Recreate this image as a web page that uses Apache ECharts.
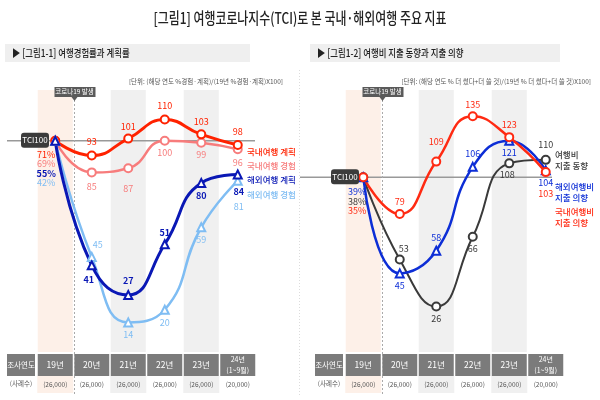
<!DOCTYPE html>
<html>
<head>
<meta charset="utf-8">
<script src="https://cdn.jsdelivr.net/npm/echarts@6/dist/echarts.min.js"></script>
<style>
  html, body { margin: 0; padding: 0; background: #fff; }
  #chart { width: 600px; height: 400px; }
</style>
</head>
<body>
<div id="chart"></div>
<script>
// categories / table rows
const years = ['19년', '20년', '21년', '22년', '23년', '24년'];
const yearNotes = ['', '', '', '', '', '(1~9월)'];
const samples = ['(26,000)', '(26,000)', '(26,000)', '(26,000)', '(26,000)', '(20,000)'];

// [그림1-1] 여행경험률과 계획률 (TCI)
const domPlan = [100, 93, 101, 110, 103, 98];
const domExp = [100, 85, 87, 100, 99, 96];
const abrPlan = [100, 41, 27, 51, 80, 84];
const abrExp = [100, 45, 14, 20, 59, 81];
const base1 = ['71%', '69%', '55%', '42%']; // 19년 실제 비율

// [그림1-2] 여행비 지출 동향과 지출 의향 (TCI)
const spendTrend = [100, 53, 26, 66, 108, 110];
const abrSpend = [100, 45, 58, 106, 121, 104];
const domSpend = [100, 79, 109, 135, 123, 103];
const base2 = ['38%', '39%', '35%'];

const KR = "'Noto Sans CJK KR', sans-serif";
const NUM = "'Liberation Sans Narrow', 'Noto Sans CJK KR', sans-serif";
const PEACH = '#fdf0e8';
const BAND = '#f0f0f0';
const CELL = '#7b7b7b';
const Y1MAX = 124, Y2MAX = 150;

let chart = echarts.init(document.getElementById('chart'));

// label offsets [dx, dy] from each marker
const off = {
  domPlan: [[-9, 14], [0, -14], [0, -12], [0, -14], [0, -13], [0, -13]],
  domExp: [[-9, 23], [0, 14], [0, 20], [0, 12], [0, 12], [0, 13]],
  abrPlan: [[-9, 33], [-3, 14], [0, -14], [0, -12], [0, 13], [1, 17]],
  abrExp: [[-9, 42], [6, -12], [0, 12], [0, 13], [0, 12], [1, 26]],
  spendTrend: [[-6, 24], [4, -11], [0, 12], [0, 12], [-2, 11], [0, -15]],
  abrSpend: [[-6, 14], [0, 12], [0, -13], [0, -13], [0, 12], [0, 12]],
  domSpend: [[-6, 33], [0, -12], [0, -20], [0, -12], [0, -13], [0, 21]]
};

function lineSeries(name, data, idx, color, symbol, width, offsets, baseText, bold) {
  return {
    name: name,
    type: 'line',
    xAxisIndex: idx,
    yAxisIndex: idx,
    smooth: 0.5,
    z: 3,
    symbol: symbol,
    symbolSize: 8,
    lineStyle: { color: color, width: width },
    itemStyle: { color: color, borderWidth: 1.5 },
    label: {
      show: true,
      position: 'inside',
      color: color,
      fontSize: 9,
      fontWeight: bold ? 'bold' : 'normal',
      fontFamily: NUM
    },
    data: data.map(function (v, i) {
      let item = { value: v, label: { offset: offsets[i] } };
      if (i === 0) item.label.formatter = baseText;
      return item;
    })
  };
}

function bandSeries(idx, max) {
  return {
    type: 'bar',
    xAxisIndex: idx,
    yAxisIndex: idx,
    silent: true,
    z: 0,
    barWidth: '96%',
    data: years.map(function (y, i) {
      if (i % 2 !== 0) return '-';
      return { value: max, itemStyle: { color: i === 0 ? PEACH : BAND } };
    })
  };
}

function xAxisFor(idx) {
  return {
    type: 'category',
    gridIndex: idx,
    data: years,
    axisLine: { show: false },
    axisTick: { show: false },
    axisLabel: {
      interval: 0,
      margin: 2,
      formatter: function (v, i) {
        let sub = '{' + (i === 0 ? 'sp' : (i % 2 === 0 ? 'sg' : 'sw')) + '|' + samples[i] + '}';
        if (yearNotes[i]) return '{t|' + v + '}\n{t|' + yearNotes[i] + '}\n' + sub;
        return '{c|' + v + '}\n' + sub;
      },
      rich: {
        c: { width: 35, height: 22, lineHeight: 22, backgroundColor: CELL, color: '#fff', fontSize: 8.5, fontFamily: KR, align: 'center' },
        t: { width: 35, height: 11, lineHeight: 11, backgroundColor: CELL, color: '#fff', fontSize: 7, fontFamily: KR, align: 'center' },
        sp: { width: 36, height: 17, lineHeight: 17, backgroundColor: PEACH, color: '#555', fontSize: 6.5, fontFamily: NUM, align: 'center' },
        sg: { width: 36, height: 17, lineHeight: 17, backgroundColor: BAND, color: '#555', fontSize: 6.5, fontFamily: NUM, align: 'center' },
        sw: { width: 36, height: 17, lineHeight: 17, color: '#555', fontSize: 6.5, fontFamily: NUM, align: 'center' }
      }
    }
  };
}

chart.setOption({
  animation: false,
  grid: [
    { left: 37, top: 90, width: 219, height: 262 },
    { left: 345, top: 90, width: 219, height: 262 }
  ],
  xAxis: [xAxisFor(0), xAxisFor(1)],
  yAxis: [
    { type: 'value', gridIndex: 0, min: 0, max: Y1MAX, show: false },
    { type: 'value', gridIndex: 1, min: 0, max: Y2MAX, show: false }
  ],
  series: [
    bandSeries(0, Y1MAX),
    bandSeries(1, Y2MAX),
    lineSeries('국내여행 경험', domExp, 0, '#f77c7c', 'emptyCircle', 2.5, off.domExp, base1[1], false),
    lineSeries('국내여행 계획', domPlan, 0, '#ff2200', 'emptyCircle', 3, off.domPlan, base1[0], false),
    lineSeries('해외여행 경험', abrExp, 0, '#7fbdf3', 'emptyTriangle', 2.5, off.abrExp, base1[3], false),
    lineSeries('해외여행 계획', abrPlan, 0, '#0a18b5', 'emptyTriangle', 3, off.abrPlan, base1[2], true),
    lineSeries('여행비 지출 동향', spendTrend, 1, '#3a3a3a', 'emptyCircle', 2, off.spendTrend, base2[0], false),
    lineSeries('해외여행비 지출 의향', abrSpend, 1, '#0d2ed6', 'emptyTriangle', 2.5, off.abrSpend, base2[1], false),
    lineSeries('국내여행비 지출 의향', domSpend, 1, '#ff2a12', 'emptyCircle', 2.5, off.domSpend, base2[2], false)
  ]
});

// decorations placed from the axes' own scales
function decorations() {
  let g = [];
  let tciY = [chart.convertToPixel({ yAxisIndex: 0 }, 100), chart.convertToPixel({ yAxisIndex: 1 }, 100)];
  let lineX = [[7, 255], [300, 552]];
  let boxX = [21, 331];
  let tableTop = 354;

  g.push({ type: 'text', x: 300, y: 18, scaleX: 0.77, style: { text: '[그림1] 여행코로나지수(TCI)로 본 국내·해외여행 주요 지표', fontSize: 15.5, fontWeight: 500, fontFamily: KR, fill: '#222', align: 'center', verticalAlign: 'middle' } });
  g.push({ type: 'line', shape: { x1: 299.5, y1: 70, x2: 299.5, y2: 395 }, style: { stroke: '#dcdcdc', lineWidth: 1, lineDash: [1, 2] } });

  let subs = [
    { x: 5, w: 245, text: '▶ [그림1-1] 여행경험률과 계획률', unit: '[단위: (해당 연도 %경험·계획)/(19년 %경험·계획)X100]', ux: 283 },
    { x: 310, w: 250, text: '▶ [그림1-2] 여행비 지출 동향과 지출 의향', unit: '[단위: (해당 연도 % 더 썼다+더 쓸 것)/(19년 % 더 썼다+더 쓸 것)X100]', ux: 591 }
  ];
  subs.forEach(function (s) {
    g.push({ type: 'rect', shape: { x: s.x, y: 44, width: s.w, height: 18 }, style: { fill: '#efefef' }, z: 0 });
    g.push({ type: 'text', x: s.x + 7, y: 53, scaleX: 0.8, style: { text: s.text, fontSize: 10.5, fontWeight: 500, fontFamily: KR, fill: '#222', verticalAlign: 'middle' }, z: 1 });
    g.push({ type: 'text', x: s.ux, y: 82, style: { text: s.unit, fontSize: 6.5, fontFamily: KR, fill: '#555', align: 'right', verticalAlign: 'middle' } });
  });

  [0, 1].forEach(function (k) {
    let c0 = chart.convertToPixel({ xAxisIndex: k }, years[0]);
    let c1 = chart.convertToPixel({ xAxisIndex: k }, years[1]);
    let bx = Math.round((c0 + c1) / 2) + 0.5;
    let y = tciY[k];
    // TCI100 base line and tag
    g.push({ type: 'line', shape: { x1: lineX[k][0], y1: y, x2: lineX[k][1], y2: y }, style: { stroke: '#999', lineWidth: 1.5 }, z: 1 });
    g.push({ type: 'rect', shape: { x: boxX[k], y: y - 8, width: 28, height: 15, r: 3 }, style: { fill: '#3b3b3b' }, z: 4 });
    g.push({ type: 'text', x: boxX[k] + 14, y: y - 0.5, style: { text: 'TCI100', fontSize: 8, fontFamily: NUM, fill: '#fff', align: 'center', verticalAlign: 'middle' }, z: 5 });
    // covid onset marker
    g.push({ type: 'line', shape: { x1: bx, y1: 100, x2: bx, y2: 396 }, style: { stroke: '#aaa', lineWidth: 1, lineDash: [2, 2] }, z: 1 });
    g.push({ type: 'rect', shape: { x: bx - 20, y: 87, width: 41, height: 10 }, style: { fill: '#5a5a5a' }, z: 4 });
    g.push({ type: 'polygon', shape: { points: [[bx - 3, 97], [bx + 3, 97], [bx, 101]] }, style: { fill: '#5a5a5a' }, z: 4 });
    g.push({ type: 'text', x: bx, y: 92, style: { text: '코로나19 발생', fontSize: 6.5, fontFamily: KR, fill: '#fff', align: 'center', verticalAlign: 'middle' }, z: 5 });
    // table header column
    let hx = k === 0 ? 7 : 315;
    g.push({ type: 'rect', shape: { x: hx, y: tableTop, width: 28, height: 22 }, style: { fill: CELL }, z: 1 });
    g.push({ type: 'text', x: hx + 14, y: tableTop + 11, style: { text: '조사연도', fontSize: 7.5, fontFamily: KR, fill: '#fff', align: 'center', verticalAlign: 'middle' }, z: 2 });
    g.push({ type: 'text', x: hx + 14, y: tableTop + 30, style: { text: '(사례수)', fontSize: 6.5, fontFamily: KR, fill: '#555', align: 'center', verticalAlign: 'middle' }, z: 2 });
  });

  // series names at the right ends
  let names1 = [['국내여행 계획', '#ff2200', 152], ['국내여행 경험', '#f77c7c', 166], ['해외여행 계획', '#0a18b5', 180], ['해외여행 경험', '#7fbdf3', 195]];
  names1.forEach(function (n) {
    g.push({ type: 'text', x: 247, y: n[2], style: { text: n[0], fontSize: 8.5, fontWeight: 500, fontFamily: KR, fill: n[1], verticalAlign: 'middle' }, z: 5 });
  });
  let names2 = [['여행비\n지출 동향', '#3a3a3a', 160], ['해외여행비\n지출 의향', '#0d2ed6', 192], ['국내여행비\n지출 의향', '#ff2a12', 217]];
  names2.forEach(function (n) {
    g.push({ type: 'text', x: 555, y: n[2], style: { text: n[0], fontSize: 8.5, lineHeight: 11, fontWeight: 500, fontFamily: KR, fill: n[1], verticalAlign: 'middle' }, z: 5 });
  });

  chart.setOption({ graphic: g });
}
decorations();
</script>
</body>
</html>
